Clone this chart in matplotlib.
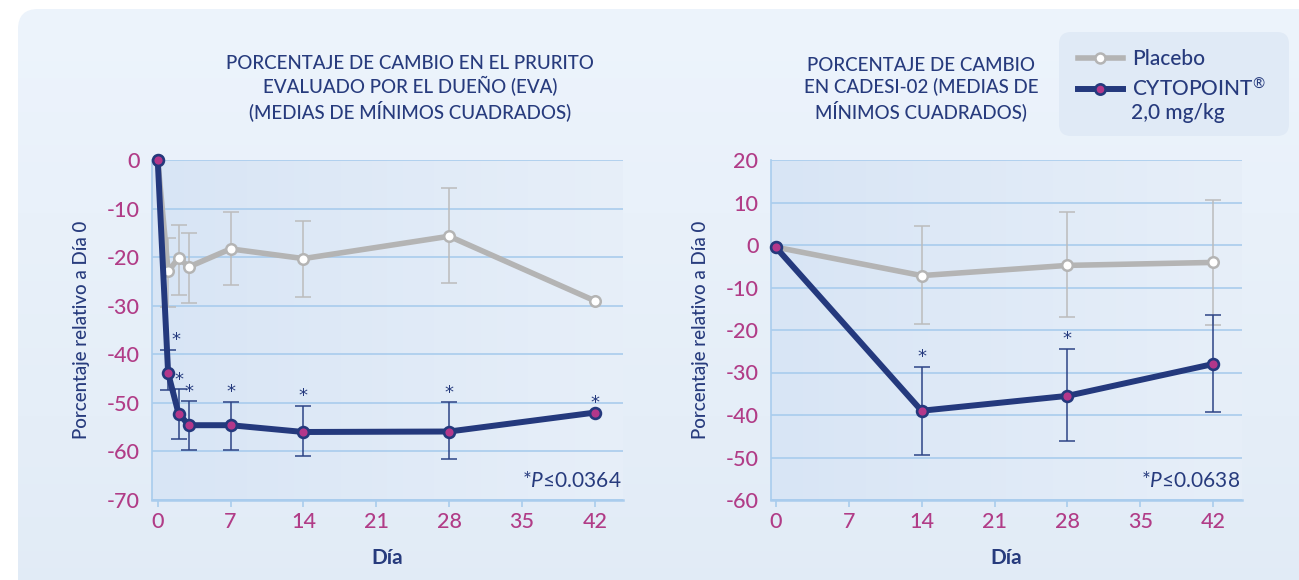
import numpy as np
import matplotlib
matplotlib.use("Agg")
import matplotlib.pyplot as plt
from matplotlib.patches import FancyBboxPatch
from matplotlib.lines import Line2D
from matplotlib.colors import LinearSegmentedColormap

plt.rcParams['font.family'] = ['Lato', 'DejaVu Sans']
plt.rcParams['mathtext.fontset'] = 'custom'
plt.rcParams['mathtext.rm'] = 'Lato'
plt.rcParams['mathtext.it'] = 'Lato:italic'
plt.rcParams['axes.unicode_minus'] = False

nan = np.nan

# ---- Owner-assessed pruritus (EVA), % change from Day 0 ----
eva_days = [0, 1, 2, 3, 7, 14, 28, 42]
eva_placebo = [0, -22.9, -20.2, -22.0, -18.3, -20.3, -15.7, -29.0]
eva_placebo_low = [nan, -30.3, -27.7, -29.4, -25.7, -28.2, -25.4, nan]
eva_placebo_high = [nan, -16.1, -13.4, -15.1, -10.8, -12.5, -5.8, nan]
eva_cyto = [0, -43.9, -52.2, -54.6, -54.6, -56.0, -55.9, -52.0]
eva_cyto_low = [nan, -47.4, -57.4, -59.8, -59.8, -61.0, -61.6, nan]
eva_cyto_high = [nan, -39.1, -47.2, -49.7, -49.8, -50.6, -49.9, nan]
eva_signif = [False, True, True, True, True, True, True, True]

# ---- CADESI-02, % change from Day 0 ----
cadesi_days = [0, 14, 28, 42]
cadesi_placebo = [-0.5, -7.2, -4.8, -4.1]
cadesi_placebo_low = [nan, -18.7, -16.9, -18.8]
cadesi_placebo_high = [nan, 4.4, 7.7, 10.6]
cadesi_cyto = [-0.5, -39.0, -35.5, -28.0]
cadesi_cyto_low = [nan, -49.4, -46.1, -39.2]
cadesi_cyto_high = [nan, -28.7, -24.5, -16.5]
cadesi_signif = [False, True, True, False]

x_ticks = [0, 7, 14, 21, 28, 35, 42]
eva_yticks = [0, -10, -20, -30, -40, -50, -60, -70]
cadesi_yticks = [20, 10, 0, -10, -20, -30, -40, -50, -60]

eva_title = "PORCENTAJE DE CAMBIO EN EL PRURITO\nEVALUADO POR EL DUEÑO (EVA)\n(MEDIAS DE MÍNIMOS CUADRADOS)"
cadesi_title = "PORCENTAJE DE CAMBIO\nEN CADESI-02 (MEDIAS DE\nMÍNIMOS CUADRADOS)"
y_label = "Porcentaje relativo a Día 0"
x_label = "Día"
label_placebo = "Placebo"
label_cyto = r"CYTOPOINT$^{®}$"
label_dose = "2,0 mg/kg"
eva_pnote = r"*$\mathit{P}$≤0.0364"
cadesi_pnote = r"*$\mathit{P}$≤0.0638"

# ---- colours ----
NAVY = "#24397d"
TEXT_NAVY = "#273b7d"
MAGENTA = "#b3378a"
TICK_MAGENTA = "#b13c87"
GREY = "#b4b4b4"
GREY_ERR = "#bcbcbc"
NAVY_ERR = "#2d4486"
GRID = "#a9cced"

W, H = 1299, 580
fig = plt.figure(figsize=(W / 100, H / 100), dpi=100, facecolor="white")

# ---- background panel with soft vertical gradient ----
bg = fig.add_axes([0, 0, 1, 1], zorder=-10)
bg.set_xlim(0, W)
bg.set_ylim(H, 0)
bg.axis("off")
panel_cmap = LinearSegmentedColormap.from_list("panel", ["#edf4fc", "#e1ebf6"])
grad = np.linspace(0, 1, 256).reshape(-1, 1)
im = bg.imshow(grad, cmap=panel_cmap, extent=[18, W + 40, H + 40, 9],
               aspect="auto", interpolation="bicubic")
panel = FancyBboxPatch((18, 9), W + 40, H + 40,
                       boxstyle="round,pad=0,rounding_size=20",
                       transform=bg.transData, facecolor="none", edgecolor="none")
bg.add_patch(panel)
im.set_clip_path(panel)

# legend box
legend_box = FancyBboxPatch((1059, 32), 230, 104,
                            boxstyle="round,pad=0,rounding_size=12",
                            transform=bg.transData, facecolor="#e0eaf6",
                            edgecolor="none")
bg.add_patch(legend_box)

area_cmap = LinearSegmentedColormap.from_list("area", ["#d8e5f5", "#e7eff9"])


def draw_panel(rect, days, placebo, p_low, p_high, cyto, c_low, c_high, signif,
               xlim, ylim, yticks, pnote):
    ax = fig.add_axes(rect)
    ax.set_facecolor("none")
    ax.imshow(np.linspace(0, 1, 256).reshape(1, -1), cmap=area_cmap,
              extent=[0, 1, 0, 1], transform=ax.transAxes, aspect="auto",
              zorder=0, interpolation="bicubic")
    ax.set_xlim(*xlim)
    ax.set_ylim(*ylim)

    days = np.asarray(days, float)
    placebo = np.asarray(placebo, float)
    cyto = np.asarray(cyto, float)
    p_low, p_high = np.asarray(p_low, float), np.asarray(p_high, float)
    c_low, c_high = np.asarray(c_low, float), np.asarray(c_high, float)

    pm = ~np.isnan(p_low)
    ax.errorbar(days[pm], placebo[pm],
                yerr=[placebo[pm] - p_low[pm], p_high[pm] - placebo[pm]],
                fmt="none", ecolor=GREY_ERR, elinewidth=1.1, capsize=6,
                capthick=1.1, zorder=2, clip_on=False)
    ax.plot(days, placebo, color=GREY, lw=4.0, marker="o", ms=7.6,
            mfc="white", mec=GREY, mew=1.8, zorder=3, clip_on=False,
            solid_capstyle="round")

    cm = ~np.isnan(c_low)
    ax.errorbar(days[cm], cyto[cm],
                yerr=[cyto[cm] - c_low[cm], c_high[cm] - cyto[cm]],
                fmt="none", ecolor=NAVY_ERR, elinewidth=1.1, capsize=6,
                capthick=1.1, zorder=4, clip_on=False)
    ax.plot(days, cyto, color=NAVY, lw=4.3, marker="o", ms=7.8,
            mfc=MAGENTA, mec=NAVY, mew=1.9, zorder=5, clip_on=False,
            solid_capstyle="round")

    # significance markers above the upper error bar (or the point)
    for i, s in enumerate(signif):
        if not s:
            continue
        top = c_high[i] if not np.isnan(c_high[i]) else cyto[i]
        dx = 6 if i == 1 and len(days) > 4 else 0
        ax.annotate("*", (days[i], top), xytext=(dx, 7),
                    textcoords="offset points", ha="center", va="center",
                    fontsize=13, color=NAVY, zorder=6,
                    family=["DejaVu Sans"])

    ax.set_xticks(x_ticks)
    ax.set_yticks(yticks)
    ax.grid(axis="y", color=GRID, lw=1.2)
    ax.grid(axis="x", visible=False)
    ax.set_axisbelow(True)
    for side in ("top", "right"):
        ax.spines[side].set_visible(False)
    ax.spines["left"].set_color(GRID)
    ax.spines["left"].set_linewidth(1.2)
    ax.spines["bottom"].set_color(GRID)
    ax.spines["bottom"].set_linewidth(1.8)
    ax.tick_params(axis="x", direction="out", length=5, width=1.2,
                   color=GRID, labelcolor=TICK_MAGENTA, labelsize=15.5, pad=4)
    ax.tick_params(axis="y", length=0, labelcolor=TICK_MAGENTA,
                   labelsize=15.5, pad=9)
    for lab in ax.get_xticklabels() + ax.get_yticklabels():
        lab.set_fontweight("medium")
    ax.set_xlabel(x_label, color=TEXT_NAVY, fontsize=15, fontweight="bold",
                  labelpad=11)
    ax.set_ylabel(y_label, color=TEXT_NAVY, fontsize=13.5, labelpad=12,
                  fontweight="medium")
    ax.text(0.997, 0.057, pnote, transform=ax.transAxes, ha="right",
            va="center", fontsize=15, color=TEXT_NAVY, zorder=6)
    return ax


draw_panel([152 / W, 80 / H, 471 / W, 340 / H], eva_days,
           eva_placebo, eva_placebo_low, eva_placebo_high,
           eva_cyto, eva_cyto_low, eva_cyto_high, eva_signif,
           (-0.55, 44.7), (-70, 0), eva_yticks, eva_pnote)

draw_panel([771 / W, 80 / H, 471 / W, 340 / H], cadesi_days,
           cadesi_placebo, cadesi_placebo_low, cadesi_placebo_high,
           cadesi_cyto, cadesi_cyto_low, cadesi_cyto_high, cadesi_signif,
           (-0.45, 44.75), (-60, 20), cadesi_yticks, cadesi_pnote)

# ---- titles ----
fig.text(410 / W, 1 - 88 / H, eva_title, ha="center", va="center",
         fontsize=13.5, color=TEXT_NAVY, linespacing=1.25, fontweight="medium")
fig.text(921 / W, 1 - 89 / H, cadesi_title, ha="center", va="center",
         fontsize=13.5, color=TEXT_NAVY, linespacing=1.25, fontweight="medium")

# ---- legend ----
handles = [
    Line2D([], [], color=GREY, lw=4.0, marker="o", ms=7.2, mfc="white",
           mec=GREY, mew=1.8),
    Line2D([], [], color=NAVY, lw=4.3, marker="o", ms=7.4, mfc=MAGENTA,
           mec=NAVY, mew=1.9),
]
leg = fig.legend(handles, [label_placebo, label_cyto], loc="upper left",
                 bbox_to_anchor=(1078 / W, 1 - 49 / H), frameon=False,
                 fontsize=15, handlelength=2.15, handletextpad=0.45,
                 labelspacing=0.38, borderpad=0, borderaxespad=0)
for t in leg.get_texts():
    t.set_color(TEXT_NAVY)
    t.set_fontweight("medium")
fig.text(1131 / W, 1 - 113 / H, label_dose, ha="left", va="center",
         fontsize=15, color=TEXT_NAVY, fontweight="medium")

fig.savefig("out.png", dpi=100, facecolor="white")
